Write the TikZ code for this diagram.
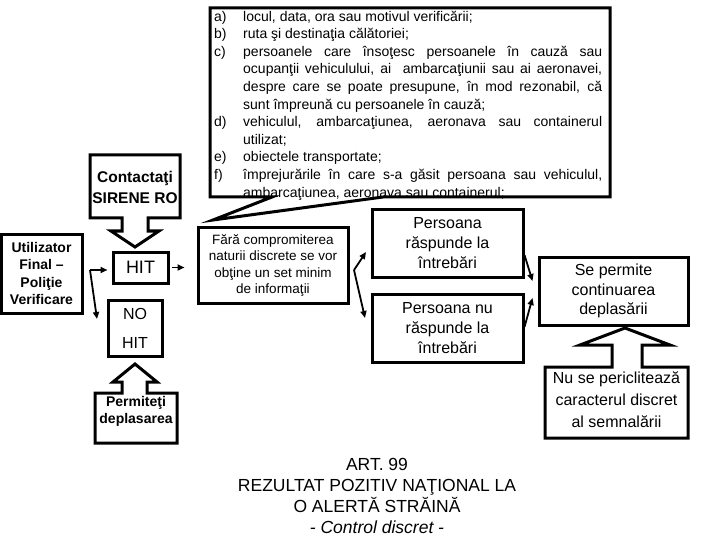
\documentclass[tikz,border=0pt]{standalone}
\usepackage{fontspec}
\setmainfont{Liberation Sans}
\usetikzlibrary{arrows.meta,calc}
\newcommand\fsz[2]{\fontsize{#1}{#2}\selectfont}
\newcommand\lbl[1]{\makebox[29pt][l]{#1}}
\newcommand\jst[1]{\makebox[359pt][s]{#1}}
\begin{document}
\begin{tikzpicture}[x=1pt,y=-1pt,
  box/.style={draw,line width=3pt,fill=white,inner sep=0pt,align=center},
  blk/.style={draw,line width=3pt,fill=white,line join=miter},
  conn/.style={line width=1.8pt,-{Triangle[length=7pt,width=6pt]}}]
\useasboundingbox (0,0) rectangle (720,540);

% callout list
\draw[blk] (210,8) -- (610,8) -- (610,197) -- (383,197) -- (213,220) -- (272,197) -- (210,197) -- cycle;
\node[anchor=north west,inner sep=0pt,align=left,font=\fsz{14}{17.6}] (list) at (214,10.5) {%
\lbl{a)}locul, data, ora sau motivul verificării;\\
\lbl{b)}ruta şi destinaţia călătoriei;\\
\lbl{c)}\jst{persoanele care însoţesc persoanele în cauză sau}\\
\lbl{}\jst{ocupanţii vehiculului, ai \ ambarcaţiunii sau ai aeronavei,}\\
\lbl{}\jst{despre care se poate presupune, în mod rezonabil, că}\\
\lbl{}sunt împreună cu persoanele în cauză;\\
\lbl{d)}\jst{vehiculul, ambarcaţiunea, aeronava sau containerul}\\
\lbl{}utilizat;\\
\lbl{e)}obiectele transportate;\\
\lbl{f)}\jst{împrejurările în care s-a găsit persoana sau vehiculul,}\\
\lbl{}ambarcaţiunea, aeronava sau containerul;};

% Contactati block arrow
\draw[blk] (90,155) -- (180,155) -- (180,218) -- (148,218) -- (148,231) -- (159,231) -- (135,247) -- (111,231) -- (122,231) -- (122,218) -- (90,218) -- cycle;
\node[inner sep=0pt,align=center,font=\bfseries\fsz{15.5}{21}] (contact) at (135,187) {Contactaţi\\SIRENE RO};

% Permiteti block arrow
\draw[blk] (95,443) -- (95,393) -- (122,393) -- (122,382) -- (113,382) -- (135,364) -- (157,382) -- (147,382) -- (147,393) -- (177,393) -- (177,443) -- cycle;
\node[inner sep=0pt,align=center,font=\bfseries\fsz{14}{17}] (permit) at (136,411.5) {Permiteţi\\deplasarea};

% Nu se pericliteaza block arrow
\draw[blk] (545,438) -- (545,367) -- (612,367) -- (612,345) -- (580,345) -- (625,328) -- (670,345) -- (642,345) -- (642,367) -- (688,367) -- (688,438) -- cycle;
\node[inner sep=0pt,align=center,font=\fsz{16}{22}] (nuse) at (616.5,400) {Nu se periclitează\\caracterul discret\\al semnalării};

% boxes
\node[box,minimum width=81pt,minimum height=79pt,font=\bfseries\fsz{14}{17.5}] (util) at (41.5,273.5) {Utilizator\\Final –\\Poliţie\\Verificare};
\node[box,minimum width=55pt,minimum height=31pt,font=\fsz{18}{20}] (hit) at (140.5,267.5) {HIT};
\node[box,minimum width=54pt,minimum height=56pt,font=\fsz{16}{29}] (nohit) at (135,328) {NO\\HIT};
\node[box,minimum width=150pt,minimum height=75pt,font=\fsz{13.5}{16.5}] (fara) at (273,265.5) {Fără compromiterea\\naturii discrete se vor\\obţine un set minim\\de informaţii};
\node[box,minimum width=151pt,minimum height=67pt,font=\fsz{16}{20}] (pr) at (447.5,243.5) {Persoana\\răspunde la\\întrebări};
\node[box,minimum width=151pt,minimum height=68pt,font=\fsz{16}{20}] (pn) at (447.5,328) {Persoana nu\\răspunde la\\întrebări};
\node[box,minimum width=149pt,minimum height=68pt,font=\fsz{16}{19.5}] (se) at (613.5,291) {Se permite\\continuarea\\deplasării};

% title
\node[inner sep=0pt,align=center,font=\fsz{17.5}{21}] (title) at (377,496) {ART. 99\\REZULTAT POZITIV NAŢIONAL LA\\O ALERTĂ STRĂINĂ\\\textit{- Control discret -}};

% connectors
\coordinate (j1) at (90,270);
\coordinate (j1d) at (97,319);
\draw[conn,shorten >=4pt] (j1) -- (j1 -| hit.west);
\draw[conn] (j1) -- (j1d);
\draw[conn,shorten <=2pt,shorten >=12pt] (hit.east) -- (fara.west |- hit.east);
\coordinate (j2) at (354,270);
\coordinate (j2u) at (366,252);
\coordinate (j2d) at (365,318);
\draw[conn] (j2) -- (j2u);
\draw[conn] (j2) -- (j2d);
\coordinate (a1) at ($(pr.east)+(0,11.5)$);
\coordinate (a2) at ($(se.west)+(-5,-10)$);
\coordinate (b1) at ($(pn.east)+(0,-1)$);
\coordinate (b2) at ($(se.west)+(-5,7)$);
\draw[conn] (a1) -- (a2);
\draw[conn] (b1) -- (b2);
\end{tikzpicture}
\end{document}
